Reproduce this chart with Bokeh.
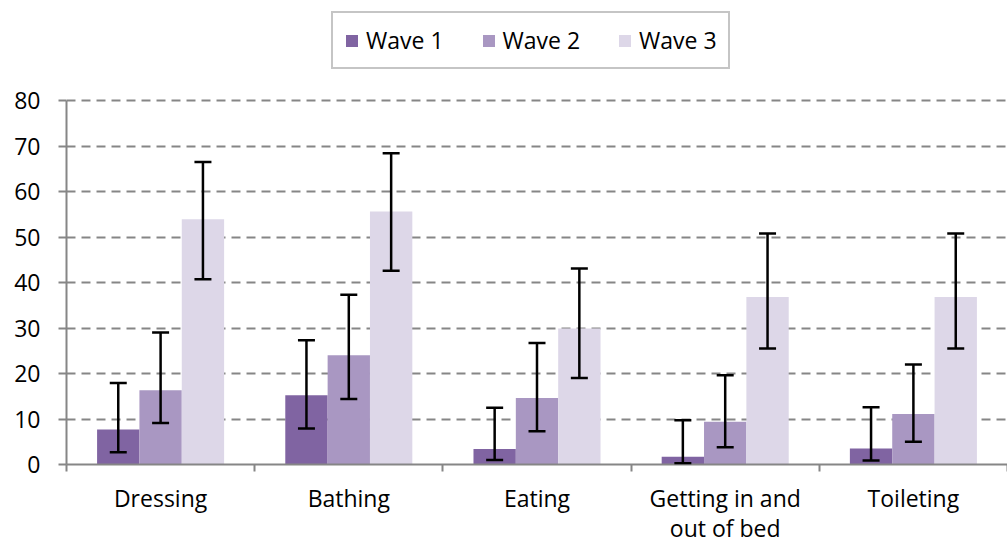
from bokeh.plotting import figure
from bokeh.models import (ColumnDataSource, Range1d, FixedTicker, Whisker, TeeHead)
from bokeh.embed import file_html
from bokeh.resources import INLINE

categories = ["Dressing", "Bathing", "Eating", "Getting in and\nout of bed", "Toileting"]
series = ["Wave 1", "Wave 2", "Wave 3"]
wave1 = [7.7, 15.2, 3.4, 1.7, 3.5]
wave1_lo = [2.7, 7.9, 1.0, 0.3, 0.9]
wave1_hi = [17.9, 27.3, 12.5, 9.7, 12.6]
wave2 = [16.3, 24.0, 14.6, 9.4, 11.1]
wave2_lo = [9.1, 14.4, 7.3, 3.8, 5.0]
wave2_hi = [29.0, 37.3, 26.7, 19.6, 22.0]
wave3 = [53.9, 55.6, 29.9, 36.8, 36.8]
wave3_lo = [40.7, 42.6, 19.0, 25.5, 25.5]
wave3_hi = [66.5, 68.4, 43.1, 50.8, 50.8]
y_ticks = [0, 10, 20, 30, 40, 50, 60, 70, 80]

colors = ["#8064A2", "#A997C2", "#DDD7E8"]
FONT = "Open Sans"
FS = "23px"
bar_w = 0.225
offsets = [-bar_w, 0.0, bar_w]

p = figure(width=1007, height=546, output_backend="svg", toolbar_location=None,
           x_range=Range1d(0, 5), y_range=Range1d(0, 102.0),
           min_border_left=66, min_border_right=0, min_border_top=0, min_border_bottom=0)
p.outline_line_color = None
p.background_fill_color = "white"

vals = [wave1, wave2, wave3]
los = [wave1_lo, wave2_lo, wave3_lo]
his = [wave1_hi, wave2_hi, wave3_hi]
for k in range(3):
    xs = [i + 0.5 + offsets[k] for i in range(len(categories))]
    src = ColumnDataSource(dict(x=xs, top=vals[k], lo=los[k], hi=his[k]))
    p.vbar(x="x", top="top", bottom=0, width=bar_w, source=src,
           fill_color=colors[k], line_color=None, legend_label=series[k])
    wk = Whisker(base="x", upper="hi", lower="lo", source=src, dimension="height",
                 line_color="black", line_width=2.5, level="overlay",
                 upper_head=TeeHead(size=17, line_color="black", line_width=2.5),
                 lower_head=TeeHead(size=17, line_color="black", line_width=2.5))
    p.add_layout(wk)

# x axis: labels at centres, ticks at boundaries
xt = FixedTicker(ticks=[i + 0.5 for i in range(len(categories))],
                 minor_ticks=list(range(len(categories) + 1)))
p.xaxis.ticker = xt
p.xaxis.major_label_overrides = {i + 0.5: c for i, c in enumerate(categories)}
p.xaxis.major_tick_line_color = None
p.xaxis.major_tick_out = 0
p.xaxis.minor_tick_line_color = "#868686"
p.xaxis.minor_tick_line_width = 2
p.xaxis.minor_tick_out = 7
p.xaxis.minor_tick_in = 0
p.xaxis.axis_line_color = "#868686"
p.xaxis.axis_line_width = 2
p.xaxis.major_label_text_font = FONT
p.xaxis.major_label_text_font_size = FS
p.xaxis.major_label_text_color = "black"
p.xaxis.major_label_text_line_height = 0.95
p.xaxis.major_label_standoff = 10

p.yaxis.ticker = FixedTicker(ticks=y_ticks)
p.yaxis.bounds = (0, 80)
p.yaxis.axis_line_color = "#868686"
p.yaxis.axis_line_width = 2
p.yaxis.major_tick_line_color = "#868686"
p.yaxis.major_tick_line_width = 2
p.yaxis.major_tick_out = 8
p.yaxis.major_tick_in = 0
p.yaxis.minor_tick_line_color = None
p.yaxis.major_label_text_font = FONT
p.yaxis.major_label_text_font_size = FS
p.yaxis.major_label_text_color = "black"
p.yaxis.major_label_standoff = 18

p.xgrid.grid_line_color = None
p.ygrid.ticker = FixedTicker(ticks=y_ticks[1:])
p.ygrid.grid_line_color = "#868686"
p.ygrid.grid_line_width = 2
p.ygrid.grid_line_dash = "9 6"

lg = p.legend[0]
lg.location = (265, 395)
lg.orientation = "horizontal"
lg.margin = 0
lg.padding = 11
lg.spacing = 37
lg.glyph_width = 15
lg.glyph_height = 15
lg.label_standoff = 7
lg.label_height = 22
lg.label_text_font = FONT
lg.label_text_font_size = FS
lg.label_text_color = "black"
lg.border_line_color = "#8c8c8c"
lg.border_line_width = 2.5
lg.background_fill_alpha = 1

open("out.html", "w").write(file_html(p, INLINE))
